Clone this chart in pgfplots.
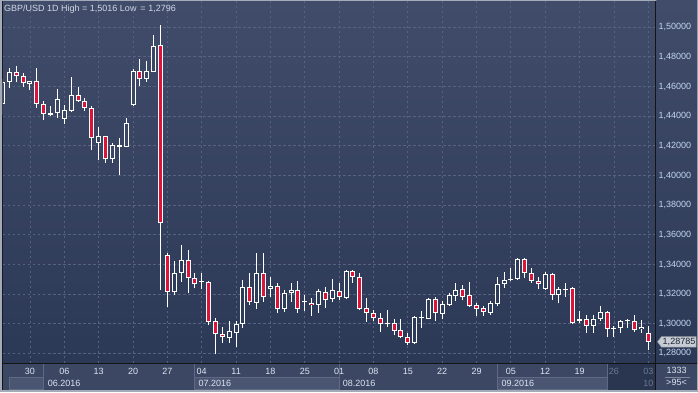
\documentclass[border=0pt]{standalone}
\usepackage{pgfplots}
\pgfplotsset{compat=1.18}
\usepackage{pgfplotstable}
\usepackage{fontspec}
\setmainfont{Liberation Sans}
\newcommand\fs{\fontsize{9}{10}\selectfont}
\definecolor{bgtop}{HTML}{404C69}
\definecolor{bgbot}{HTML}{2C3956}
\definecolor{gridc}{HTML}{56627F}
\definecolor{candred}{HTML}{DC1437}
\definecolor{holtop}{HTML}{3B4764}
\definecolor{holbot}{HTML}{2F3C59}
\definecolor{labc}{HTML}{C4D6F0}
\definecolor{datec}{HTML}{DDE5F2}
\definecolor{titlec}{HTML}{D0D8E6}
\definecolor{panel}{HTML}{3B4763}
\definecolor{boxc}{HTML}{4A5571}
\definecolor{sepc}{HTML}{5E6983}
\definecolor{darkz}{HTML}{2A3550}
\definecolor{greyt}{HTML}{6C7791}
\definecolor{framec}{HTML}{A3ABB8}
\definecolor{tagc}{HTML}{C8CDD5}
\definecolor{tagb}{HTML}{8D939C}
\definecolor{tagt}{HTML}{1D2331}

% k = trading day index (0 = 30.05.2016), O H L C
\pgfplotstableread{
k O H L C
-4 1.4482 1.4650 1.4410 1.4632
-3 1.4632 1.4727 1.4592 1.4696
-2 1.4696 1.4738 1.4632 1.4669
-1 1.4669 1.4689 1.4599 1.4622
0 1.4615 1.4640 1.4576 1.4635
1 1.4635 1.4727 1.4457 1.4482
2 1.4480 1.4502 1.4374 1.4413
3 1.4410 1.4469 1.4401 1.4418
4 1.4419 1.4583 1.4390 1.4514
5 1.4383 1.4473 1.4349 1.4440
6 1.4437 1.4662 1.4430 1.4543
7 1.4541 1.4595 1.4496 1.4500
8 1.4502 1.4520 1.4437 1.4453
9 1.4453 1.4469 1.4172 1.4251
10 1.4221 1.4325 1.4104 1.4266
11 1.4266 1.4268 1.4086 1.4109
12 1.4109 1.4217 1.4086 1.4206
13 1.4194 1.4255 1.4003 1.4204
14 1.4194 1.4386 1.4190 1.4352
15 1.4475 1.4716 1.4469 1.4705
16 1.4705 1.4786 1.4603 1.4649
17 1.4649 1.4772 1.4632 1.4705
18 1.4700 1.4947 1.4700 1.4873
19 1.4877 1.5013 1.3228 1.3677
20 1.3464 1.3475 1.3115 1.3216
21 1.3216 1.3423 1.3194 1.3340
22 1.3340 1.3531 1.3284 1.3430
23 1.3430 1.3497 1.3205 1.3307
24 1.3307 1.3344 1.3239 1.3266
25 1.3280 1.3344 1.3232 1.3287
26 1.3284 1.3286 1.2992 1.3014
27 1.3018 1.3037 1.2796 1.2929
28 1.2929 1.2980 1.2872 1.2909
29 1.2906 1.3019 1.2872 1.2951
30 1.2936 1.3019 1.2845 1.2998
31 1.2998 1.3295 1.2969 1.3246
32 1.3246 1.3344 1.3127 1.3145
33 1.3142 1.3479 1.3100 1.3340
34 1.3340 1.3479 1.3149 1.3183
35 1.3232 1.3317 1.3183 1.3252
36 1.3252 1.3277 1.3071 1.3102
37 1.3102 1.3228 1.3079 1.3205
38 1.3205 1.3277 1.3149 1.3226
39 1.3226 1.3288 1.3075 1.3102
40 1.3144 1.3194 1.3086 1.3151
41 1.3140 1.3172 1.3052 1.3124
42 1.3127 1.3232 1.3071 1.3219
43 1.3214 1.3250 1.3108 1.3160
44 1.3167 1.3300 1.3145 1.3226
45 1.3221 1.3273 1.3160 1.3178
46 1.3176 1.3361 1.3170 1.3356
47 1.3356 1.3365 1.3277 1.3317
48 1.3317 1.3340 1.3093 1.3100
49 1.3104 1.3172 1.3014 1.3071
50 1.3071 1.3093 1.3020 1.3037
51 1.3037 1.3071 1.2946 1.2996
52 1.2996 1.3093 1.2980 1.3003
53 1.3003 1.3030 1.2924 1.2953
54 1.2958 1.3030 1.2902 1.2913
55 1.2909 1.2940 1.2857 1.2872
56 1.2872 1.3050 1.2865 1.3044
57 1.3040 1.3088 1.2974 1.3047
58 1.3034 1.3172 1.3030 1.3165
59 1.3165 1.3183 1.3020 1.3071
60 1.3066 1.3153 1.3030 1.3133
61 1.3127 1.3205 1.3120 1.3194
62 1.3189 1.3277 1.3156 1.3228
63 1.3232 1.3261 1.3160 1.3183
64 1.3194 1.3284 1.3115 1.3120
65 1.3124 1.3138 1.3052 1.3102
66 1.3104 1.3120 1.3054 1.3077
67 1.3075 1.3153 1.3059 1.3138
68 1.3131 1.3317 1.3120 1.3266
69 1.3266 1.3351 1.3243 1.3295
70 1.3295 1.3378 1.3288 1.3302
71 1.3300 1.3441 1.3295 1.3435
72 1.3435 1.3444 1.3311 1.3340
73 1.3340 1.3374 1.3273 1.3290
74 1.3290 1.3313 1.3232 1.3266
75 1.3234 1.3347 1.3228 1.3336
76 1.3336 1.3344 1.3160 1.3194
77 1.3194 1.3250 1.3138 1.3232
78 1.3230 1.3277 1.3183 1.3237
79 1.3239 1.3245 1.2996 1.3003
80 1.3019 1.3088 1.3003 1.3030
81 1.3030 1.3059 1.2940 1.2985
82 1.2985 1.3059 1.2940 1.3034
83 1.3030 1.3120 1.3019 1.3081
84 1.3081 1.3085 1.2910 1.2966
85 1.2966 1.2985 1.2913 1.2973
86 1.2969 1.3025 1.2936 1.3020
87 1.3016 1.3030 1.2974 1.3025
88 1.3020 1.3057 1.2946 1.2959
89 1.2962 1.3025 1.2936 1.2976
90 1.2936 1.2985 1.2825 1.28785
}\candles

\pgfplotsset{
  ebar/.style 2 args={draw=none, fill=none, mark=none, mark size=0pt, forget plot,
    error bars/y dir=plus, error bars/y explicit, error bars/error mark=none,
    error bars/error bar style={draw=#1, line width=#2, solid}},
}

\begin{document}
\begin{tikzpicture}[x=1pt,y=1pt]
\path[use as bounding box] (0,0) rectangle (698,392);
\fill[framec] (0,0) rectangle (698,392);
\fill[black!92] (2,2) rectangle (697,391);
\shade[top color=bgtop, bottom color=bgbot] (656.3,29) rectangle (697,391);
\fill[panel] (3,2) rectangle (655,27.7);
\fill[panel] (656.3,2) rectangle (697,27.7);
% month boxes (second row)
\filldraw[fill=boxc, draw=sepc, line width=0.6pt] (9.3,3) rectangle (43.3,15);
\filldraw[fill=boxc, draw=sepc, line width=0.6pt] (194.3,3) rectangle (339,15);
\filldraw[fill=boxc, draw=sepc, line width=0.6pt] (497,3) rectangle (607,15);
\fill[darkz] (607,2) rectangle (655,27.7);
\foreach \xx in {43.3,194.3,339,497,607} \draw[sepc, line width=0.8pt] (\xx,2) -- (\xx,27.7);

\begin{axis}[
  at={(3pt,29pt)}, anchor=south west,
  width=652pt, height=362pt, scale only axis,
  xmin=-3.93, xmax=90.98, ymin=1.27353, ymax=1.51767,
  axis line style={draw=none},
  axis background/.style={shade, top color=bgtop, bottom color=bgbot},
  major tick length=0pt,
  grid=major,
  grid style={gridc, line width=0.8pt, dash pattern=on 2.5pt off 2.5pt},
  xtick={0,5,10,15,20,25,30,35,40,45,50,55,60,65,70,75,80,85,90},
  xticklabels={30,06,13,20,27,04,11,18,25,01,08,15,22,29,05,12,19,\textcolor{greyt}{26},\textcolor{greyt}{03}},
  ytick={1.28,1.30,1.32,1.34,1.36,1.38,1.40,1.42,1.44,1.46,1.48,1.50},
  yticklabel pos=right,
  xticklabel style={font=\fs, text=datec, anchor=base, inner sep=0pt, yshift=-11.7pt},
  yticklabel style={font=\fs, text=labc, anchor=west, inner sep=0pt, xshift=3.3pt,
    /pgf/number format/.cd, fixed, fixed zerofill, precision=5, use comma, assume math mode=true},
]
% wicks
\addplot[ebar={white}{1pt}] table[x=k, y=L, y error plus expr={\thisrow{H}-\thisrow{L}}] {\candles};
% body outlines
\addplot[ebar={white}{5pt}] table[x=k, y expr={min(\thisrow{O},\thisrow{C})}, y error plus expr={abs(\thisrow{C}-\thisrow{O})}] {\candles};
% red bodies
\addplot[ebar={candred}{3pt}] table[x=k, y expr={min(\thisrow{O},\thisrow{C})+0.00067}, y error plus expr={(\thisrow{C}<\thisrow{O})*max(abs(\thisrow{C}-\thisrow{O})-0.00134,0)}] {\candles};
% hollow bodies (upper part of the chart / lower part)
\addplot[ebar={holtop}{3pt}] table[x=k, y expr={min(\thisrow{O},\thisrow{C})+0.00067}, y error plus expr={(\thisrow{C}>\thisrow{O})*(\thisrow{k}<19)*max(abs(\thisrow{C}-\thisrow{O})-0.00134,0)}] {\candles};
\addplot[ebar={holbot}{3pt}] table[x=k, y expr={min(\thisrow{O},\thisrow{C})+0.00067}, y error plus expr={(\thisrow{C}>\thisrow{O})*(\thisrow{k}>19)*max(abs(\thisrow{C}-\thisrow{O})-0.00134,0)}] {\candles};
\end{axis}

% frame lines
\fill[black!92] (3,27.7) rectangle (697,29);
\fill[black!92] (655,2) rectangle (656.3,391);

% title
\node[anchor=base west, inner sep=0pt, text=titlec, font=\fs] at (4,380.3) {GBP/USD 1D High = 1,5016 Low\, = 1,2796};

% month labels
\node[anchor=base west, inner sep=0pt, text=datec, font=\fs] at (47.7,5.7) {06.2016};
\node[anchor=base west, inner sep=0pt, text=datec, font=\fs] at (198.3,5.7) {07.2016};
\node[anchor=base west, inner sep=0pt, text=datec, font=\fs] at (342.7,5.7) {08.2016};
\node[anchor=base west, inner sep=0pt, text=datec, font=\fs] at (501.3,5.7) {09.2016};
\node[anchor=base east, inner sep=0pt, text=greyt, font=\fs] at (653.5,5.7) {10};

% bottom-right box
\node[anchor=base, inner sep=0pt, text=datec, font=\fs] at (676.5,18.3) {1333};
\draw[sepc!80!white, line width=0.7pt] (665,14.3) -- (690,14.3);
\node[anchor=base, inner sep=0pt, text=datec, font=\fs] at (676.5,6.7) {>95<};

% price tag
\filldraw[fill=tagc, draw=tagb, line width=0.5pt] (657.5,50.2) -- (661.5,55.5) -- (696,55.5) -- (696,44.8) -- (661.5,44.8) -- cycle;
\node[anchor=center, inner sep=0pt, text=tagt, font=\fs] at (679,50.2) {1,28785};
\end{tikzpicture}
\end{document}
